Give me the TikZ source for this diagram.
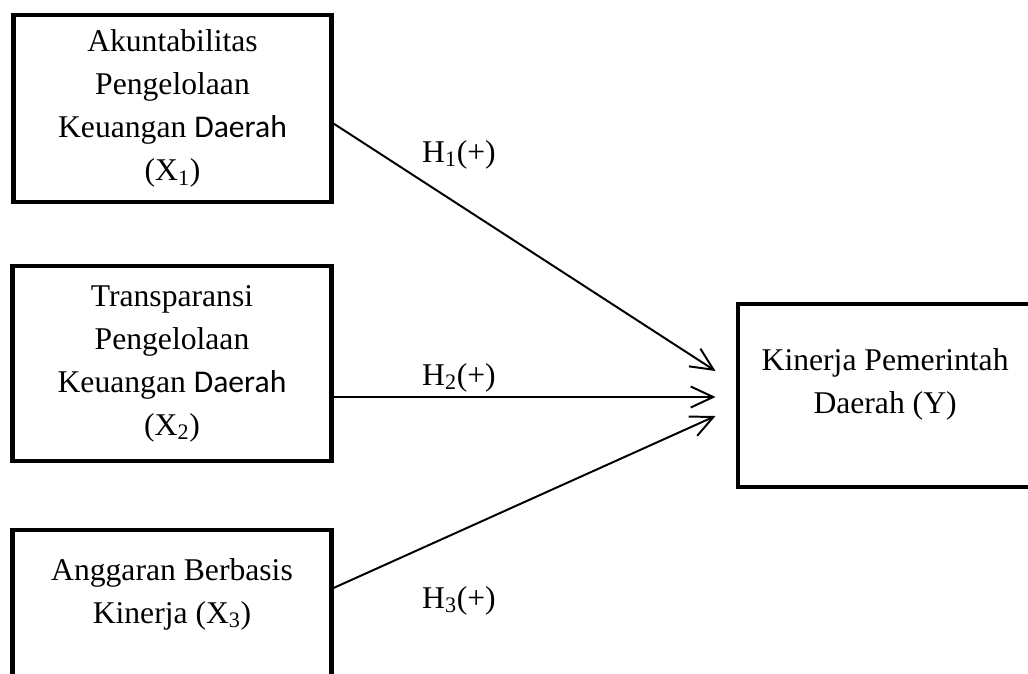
\documentclass[tikz,border=0pt]{standalone}
\usepackage{fontspec}
\setmainfont{Liberation Serif}
\newfontfamily\calibri{Carlito}
\usetikzlibrary{positioning,calc,arrows.meta}

\begin{document}
\begin{tikzpicture}[
    x=0.025cm, y=-0.025cm,
    box/.style={rectangle, draw, line width=3.5pt, align=center, inner sep=0pt, font=\fontsize{22.5}{30.6}\selectfont},
    arrow/.style={-{Straight Barb[length=16pt, width=15pt]}, line width=1.4pt},
    hyp/.style={anchor=base, font=\fontsize{22.5}{30.6}\selectfont}
]
\useasboundingbox (0,0) rectangle (1028,673);
\clip (0,0) rectangle (1028,673);

\node[box, minimum width=7.925cm, minimum height=4.675cm] (x1) at (172.5,108.5) {Akuntabilitas\\ Pengelolaan\\ Keuangan {\calibri Daerah}\\ (X\textsubscript{1})};
\node[box, minimum width=7.95cm, minimum height=4.875cm] (x2) at (172,363.5) {Transparansi\\ Pengelolaan\\ Keuangan {\calibri Daerah}\\ (X\textsubscript{2})};
\node[box, minimum width=7.95cm, minimum height=4.75cm,
    label={[anchor=north, yshift=-0.64cm, align=center, font=\fontsize{22.5}{30.6}\selectfont]north:{Anggaran Berbasis\\ Kinerja (X\textsubscript{3})}}] (x3) at (172,625) {};
\node[box, minimum width=7.675cm, minimum height=4.575cm,
    label={[anchor=north, xshift=-0.16cm, yshift=-1.06cm, align=center, font=\fontsize{22.5}{30.6}\selectfont]north:{Kinerja Pemerintah\\ Daerah (Y)}}] (y) at (891.5,395.5) {};

\coordinate (t1) at ($(y.west)+(-20,-24.5)$);
\coordinate (t2) at ($(y.west)+(-20,1.5)$);
\coordinate (t3) at ($(y.west)+(-20,20.5)$);

\draw[arrow] ($(x1.east)+(0,15)$) -- (t1);
\draw[arrow] ($(x2.east)+(0,33.5)$) -- (t2);
\draw[arrow] ($(x3.east)+(0,-37)$) -- (t3);

\node[hyp] (h1) at (459,162) {H\textsubscript{1}(+)};
\node[hyp] (h2) at (459,385) {H\textsubscript{2}(+)};
\node[hyp] (h3) at (459,608) {H\textsubscript{3}(+)};

\end{tikzpicture}
\end{document}
